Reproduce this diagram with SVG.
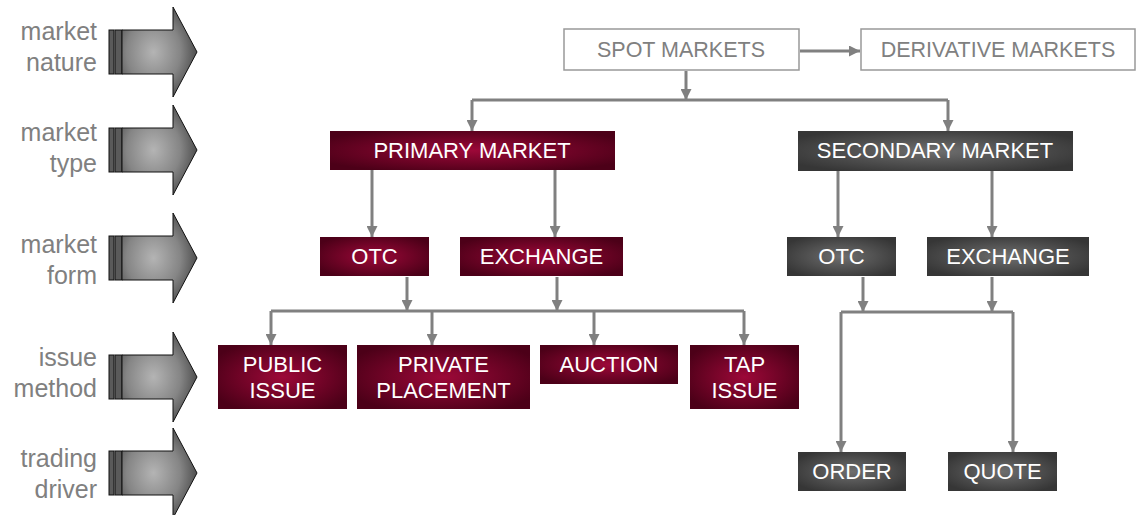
<svg xmlns="http://www.w3.org/2000/svg" width="1139" height="515" viewBox="0 0 1139 515">
  <defs>
    <radialGradient id="gRed" cx="0.5" cy="0.5" r="0.6">
      <stop offset="0" stop-color="#9c0838"/>
      <stop offset="1" stop-color="#4c0018"/>
    </radialGradient>
    <radialGradient id="gGray" cx="0.5" cy="0.5" r="0.6">
      <stop offset="0" stop-color="#6e6e6e"/>
      <stop offset="1" stop-color="#363636"/>
    </radialGradient>
    <radialGradient id="gArrow" cx="0.42" cy="0.5" r="0.6">
      <stop offset="0" stop-color="#b4b4b4"/>
      <stop offset="0.6" stop-color="#858585"/>
      <stop offset="1" stop-color="#4a4a4a"/>
    </radialGradient>
    <marker id="ah" viewBox="0 0 10 10" markerUnits="userSpaceOnUse" markerWidth="11" markerHeight="11" refX="10" refY="5" orient="auto">
      <path d="M0,0 L10,5 L0,10 z" fill="#808080"/>
    </marker>
    <g id="bigArrow">
      <rect x="109" y="-22" width="5" height="44" fill="#5a5a5a" stroke="#111" stroke-width="1"/>
      <rect x="115" y="-22" width="7" height="44" fill="#5a5a5a" stroke="#111" stroke-width="1"/>
      <path d="M122,-22 H173 V-45 L197,0 L173,45 V22 H122 Z" fill="url(#gArrow)" stroke="#111" stroke-width="1"/>
    </g>
  </defs>
  <style>
    .lbl { font-family: "Liberation Sans", Arial, sans-serif; font-size: 25px; fill: #808080; text-anchor: end; }
    .nt { font-family: "Liberation Sans", Arial, sans-serif; font-size: 22px; fill: #ffffff; text-anchor: middle; }
    .ot { font-family: "Liberation Sans", Arial, sans-serif; font-size: 21.5px; fill: #808080; text-anchor: middle; }
    .red { fill: url(#gRed); }
    .gray { fill: url(#gGray); }
    .outline { fill: #ffffff; stroke: #999999; stroke-width: 1.5; }
    .con { fill: none; stroke: #808080; stroke-width: 3; }
  </style>

  <g id="levels">
    <g id="level-nature">
      <use href="#bigArrow" transform="translate(0,52)"/>
      <text class="lbl" x="97" y="40">market</text>
      <text class="lbl" x="97" y="71">nature</text>
    </g>
    <g id="level-type">
      <use href="#bigArrow" transform="translate(0,150)"/>
      <text class="lbl" x="97" y="141">market</text>
      <text class="lbl" x="97" y="172">type</text>
    </g>
    <g id="level-form">
      <use href="#bigArrow" transform="translate(0,258)"/>
      <text class="lbl" x="97" y="253">market</text>
      <text class="lbl" x="97" y="284">form</text>
    </g>
    <g id="level-issue">
      <use href="#bigArrow" transform="translate(0,377)"/>
      <text class="lbl" x="97" y="366">issue</text>
      <text class="lbl" x="97" y="397">method</text>
    </g>
    <g id="level-trading">
      <use href="#bigArrow" transform="translate(0,473)"/>
      <text class="lbl" x="97" y="467">trading</text>
      <text class="lbl" x="97" y="498">driver</text>
    </g>
  </g>

  <g id="connectors">
    <path class="con" d="M800,51 H860" marker-end="url(#ah)"/>
    <path class="con" d="M686,71 V100" marker-end="url(#ah)"/>
    <path class="con" d="M472,100 H948"/>
    <path class="con" d="M472,100 V131" marker-end="url(#ah)"/>
    <path class="con" d="M948,100 V131" marker-end="url(#ah)"/>
    <path class="con" d="M372,170 V237" marker-end="url(#ah)"/>
    <path class="con" d="M555,170 V237" marker-end="url(#ah)"/>
    <path class="con" d="M838,171 V237" marker-end="url(#ah)"/>
    <path class="con" d="M992,171 V237" marker-end="url(#ah)"/>
    <path class="con" d="M407,277 V311" marker-end="url(#ah)"/>
    <path class="con" d="M557,277 V311" marker-end="url(#ah)"/>
    <path class="con" d="M271,311 H744"/>
    <path class="con" d="M271,311 V345" marker-end="url(#ah)"/>
    <path class="con" d="M432,311 V345" marker-end="url(#ah)"/>
    <path class="con" d="M594,311 V345" marker-end="url(#ah)"/>
    <path class="con" d="M744,311 V345" marker-end="url(#ah)"/>
    <path class="con" d="M863,277 V312" marker-end="url(#ah)"/>
    <path class="con" d="M992,277 V312" marker-end="url(#ah)"/>
    <path class="con" d="M841,312 H1013"/>
    <path class="con" d="M841,312 V452" marker-end="url(#ah)"/>
    <path class="con" d="M1013,312 V452" marker-end="url(#ah)"/>
  </g>

  <g id="spot-markets">
    <rect class="outline" x="564" y="29" width="235" height="41"/>
    <text class="ot" x="681" y="57">SPOT MARKETS</text>
  </g>
  <g id="derivative-markets">
    <rect class="outline" x="861" y="29" width="274" height="41"/>
    <text class="ot" x="998" y="57">DERIVATIVE MARKETS</text>
  </g>

  <g id="primary-market">
    <rect class="red" x="330" y="131" width="285" height="39"/>
    <text class="nt" x="472" y="158">PRIMARY MARKET</text>
  </g>
  <g id="secondary-market">
    <rect class="gray" x="798" y="131" width="275" height="40"/>
    <text class="nt" x="935" y="158">SECONDARY MARKET</text>
  </g>

  <g id="primary-otc">
    <rect class="red" x="320" y="237" width="109" height="39"/>
    <text class="nt" x="374.5" y="264">OTC</text>
  </g>
  <g id="primary-exchange">
    <rect class="red" x="460" y="237" width="163" height="39"/>
    <text class="nt" x="541.5" y="264">EXCHANGE</text>
  </g>
  <g id="secondary-otc">
    <rect class="gray" x="787" y="237" width="109" height="39"/>
    <text class="nt" x="841.5" y="264">OTC</text>
  </g>
  <g id="secondary-exchange">
    <rect class="gray" x="927" y="237" width="162" height="39"/>
    <text class="nt" x="1008" y="264">EXCHANGE</text>
  </g>

  <g id="public-issue">
    <rect class="red" x="218" y="345" width="129" height="64"/>
    <text class="nt" x="282.5" y="372">PUBLIC</text>
    <text class="nt" x="282.5" y="398">ISSUE</text>
  </g>
  <g id="private-placement">
    <rect class="red" x="357" y="345" width="173" height="64"/>
    <text class="nt" x="443.5" y="372">PRIVATE</text>
    <text class="nt" x="443.5" y="398">PLACEMENT</text>
  </g>
  <g id="auction">
    <rect class="red" x="540" y="345" width="138" height="39"/>
    <text class="nt" x="609" y="372">AUCTION</text>
  </g>
  <g id="tap-issue">
    <rect class="red" x="690" y="345" width="109" height="64"/>
    <text class="nt" x="744.5" y="372">TAP</text>
    <text class="nt" x="744.5" y="398">ISSUE</text>
  </g>

  <g id="order">
    <rect class="gray" x="798" y="452" width="108" height="39"/>
    <text class="nt" x="852" y="479">ORDER</text>
  </g>
  <g id="quote">
    <rect class="gray" x="948" y="452" width="109" height="39"/>
    <text class="nt" x="1002.5" y="479">QUOTE</text>
  </g>
</svg>
